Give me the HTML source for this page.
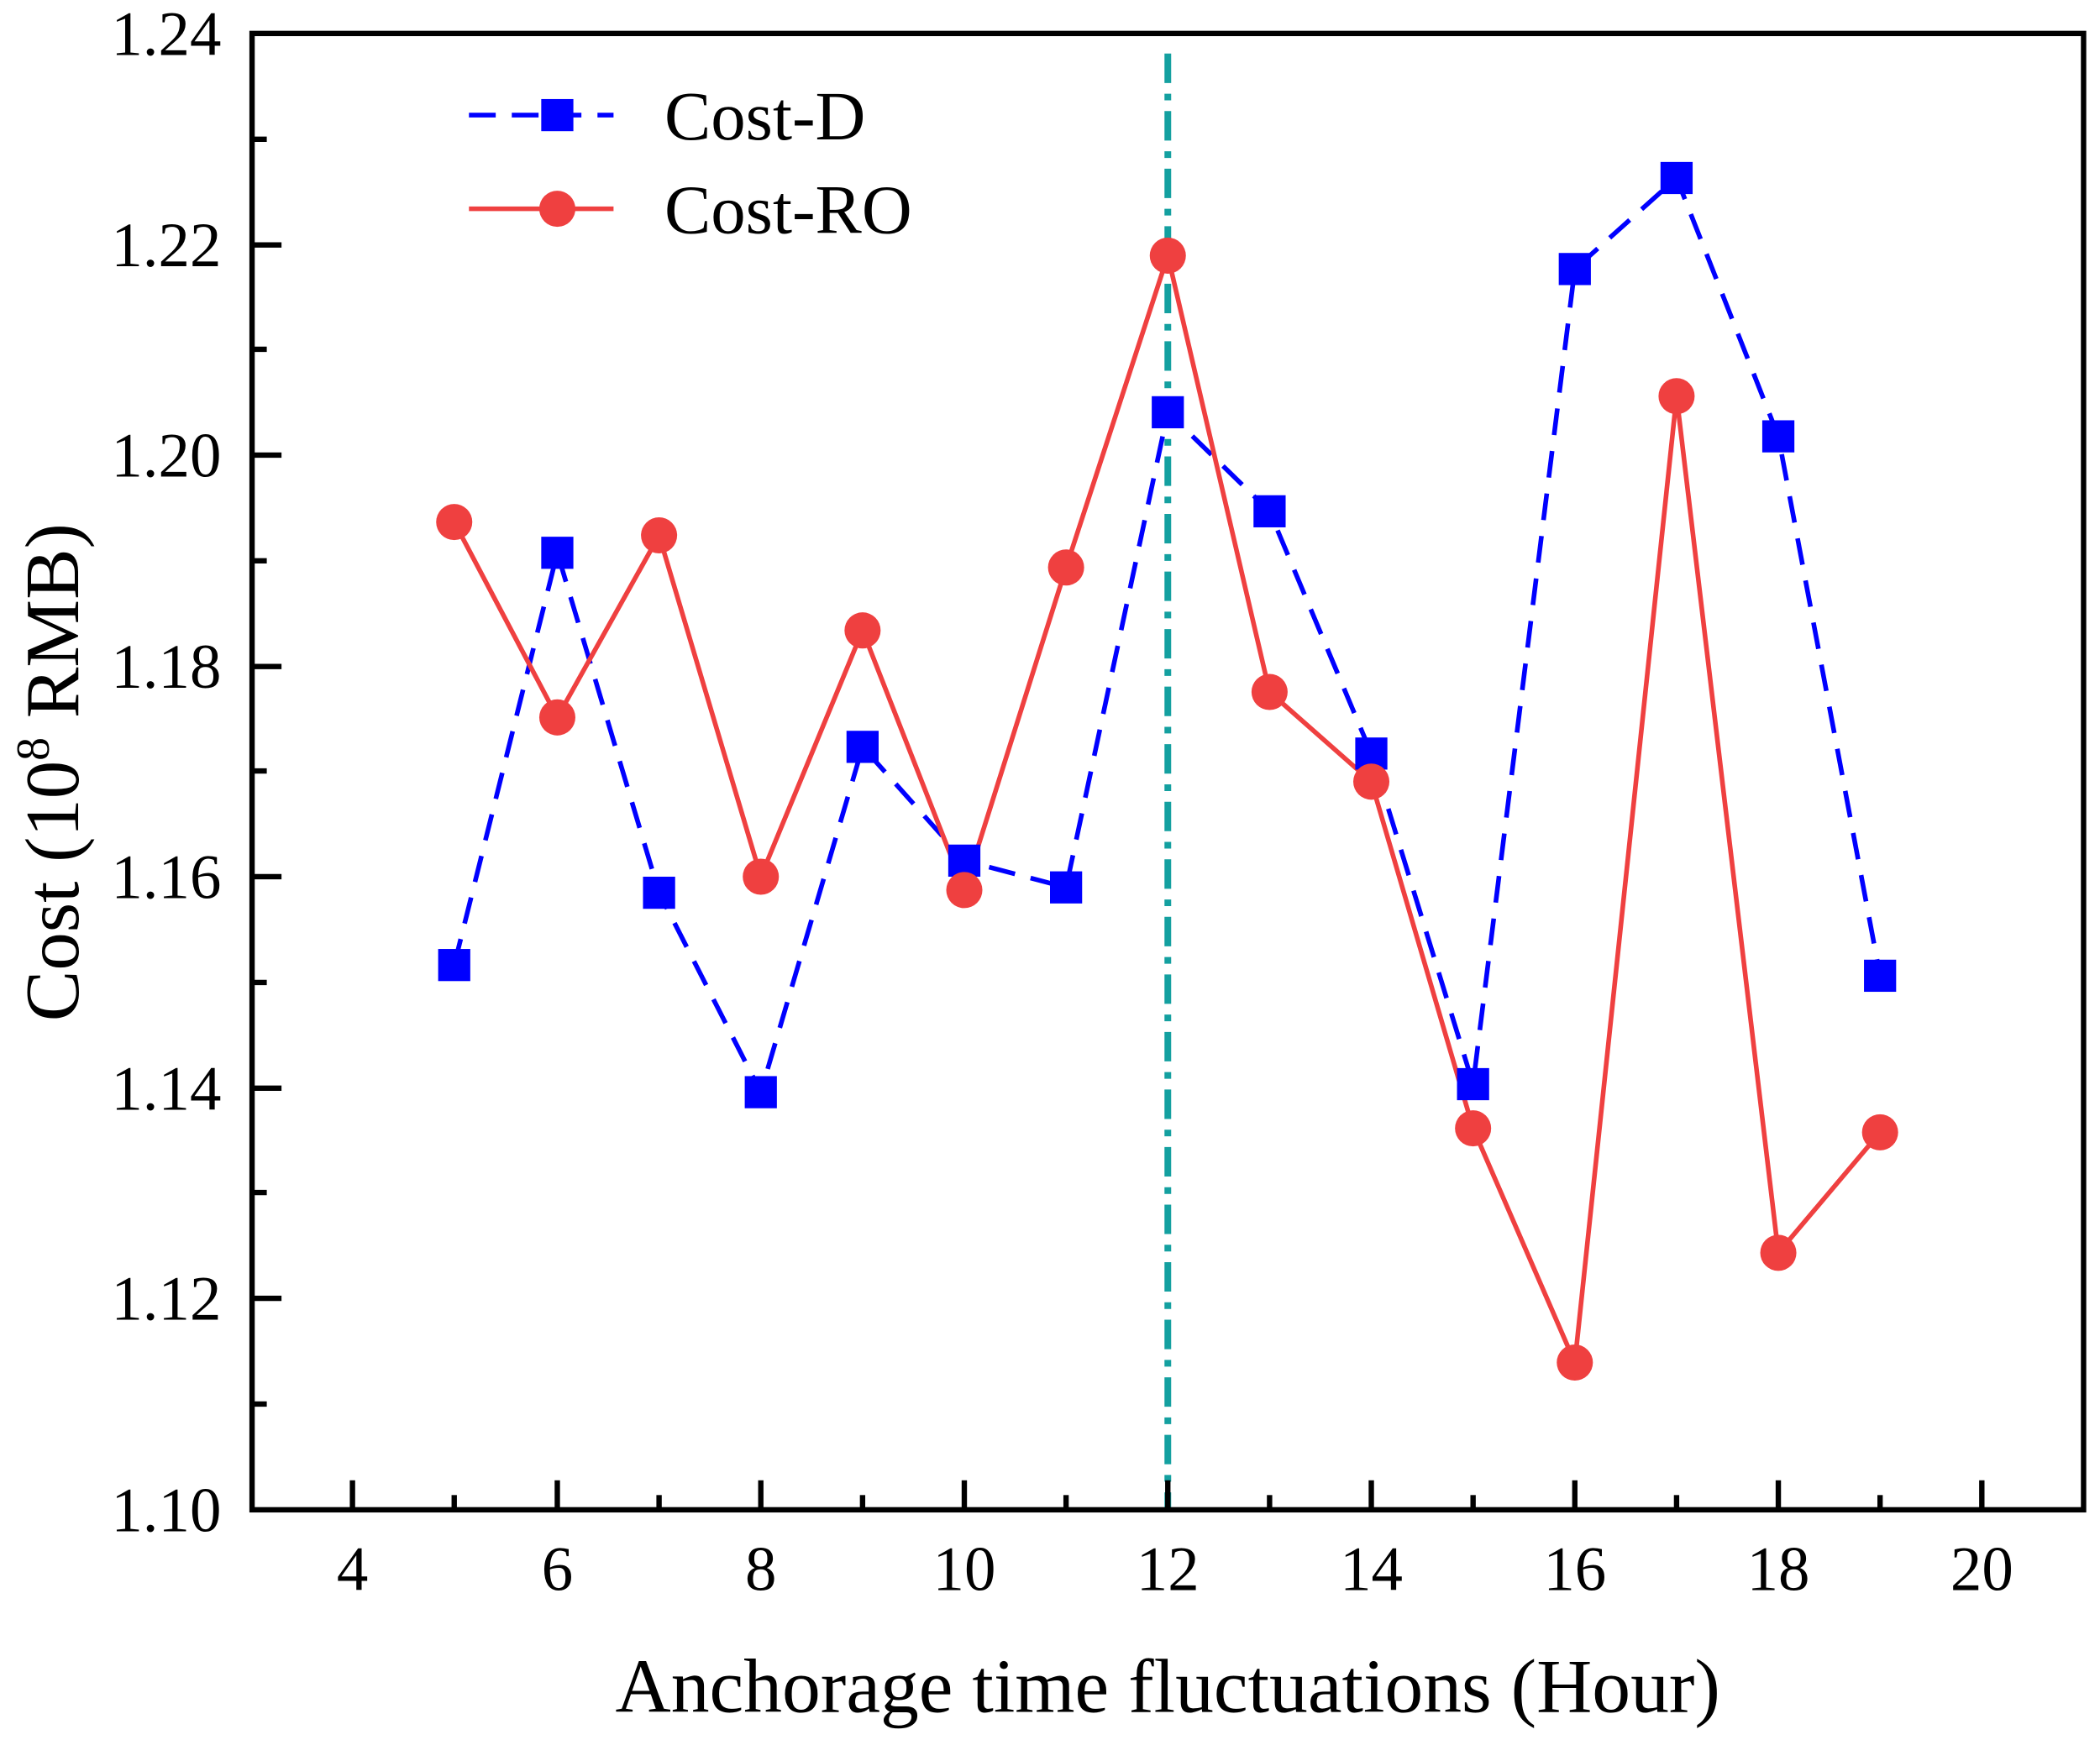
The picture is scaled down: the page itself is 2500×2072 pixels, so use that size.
<!DOCTYPE html>
<html><head><style>html,body{margin:0;padding:0;background:#fff}svg{display:block}</style></head>
<body>
<svg width="2500" height="2072" viewBox="0 0 1568 1300" xmlns="http://www.w3.org/2000/svg" font-family="Liberation Serif, serif">
<rect width="1568" height="1300" fill="#fff"/>
<line x1="872" y1="40" x2="872" y2="1128" stroke="#14a0a0" stroke-width="5" stroke-dasharray="22,8,5,8"/>
<polyline fill="none" stroke="#0000ff" stroke-width="3.5" stroke-dasharray="20,12" points="339,721 416,413 492,667 568,816 644,558 720,643 796,663 872,308 948,382 1024,563 1100,810 1176,201 1252,133 1328,326 1404,729"/>
<polyline fill="none" stroke="#ef4040" stroke-width="3.5" points="339,390 416,536 492,400 568,655 644,471 720,665 796,424 872,191 948,517 1024,584 1100,843 1176,1018 1252,296 1328,936 1404,846"/>
<g fill="#0000ff">
<rect x="327" y="709" width="24" height="24"/><rect x="404" y="401" width="24" height="24"/><rect x="480" y="655" width="24" height="24"/><rect x="556" y="804" width="24" height="24"/><rect x="632" y="546" width="24" height="24"/><rect x="708" y="631" width="24" height="24"/><rect x="784" y="651" width="24" height="24"/><rect x="860" y="296" width="24" height="24"/><rect x="936" y="370" width="24" height="24"/><rect x="1012" y="551" width="24" height="24"/><rect x="1088" y="798" width="24" height="24"/><rect x="1164" y="189" width="24" height="24"/><rect x="1240" y="121" width="24" height="24"/><rect x="1316" y="314" width="24" height="24"/><rect x="1392" y="717" width="24" height="24"/>
</g>
<g fill="#ef4040">
<circle cx="339" cy="390" r="13.5"/><circle cx="416" cy="536" r="13.5"/><circle cx="492" cy="400" r="13.5"/><circle cx="568" cy="655" r="13.5"/><circle cx="644" cy="471" r="13.5"/><circle cx="720" cy="665" r="13.5"/><circle cx="796" cy="424" r="13.5"/><circle cx="872" cy="191" r="13.5"/><circle cx="948" cy="517" r="13.5"/><circle cx="1024" cy="584" r="13.5"/><circle cx="1100" cy="843" r="13.5"/><circle cx="1176" cy="1018" r="13.5"/><circle cx="1252" cy="296" r="13.5"/><circle cx="1328" cy="936" r="13.5"/><circle cx="1404" cy="846" r="13.5"/>
</g>
<rect x="188" y="25" width="1368" height="1103" fill="none" stroke="#000" stroke-width="4"/>
<g stroke="#000" stroke-width="4">
<line x1="188" y1="183" x2="210" y2="183"/><line x1="188" y1="340" x2="210" y2="340"/><line x1="188" y1="498" x2="210" y2="498"/><line x1="188" y1="655" x2="210" y2="655"/><line x1="188" y1="813" x2="210" y2="813"/><line x1="188" y1="970" x2="210" y2="970"/>
<line x1="188" y1="104" x2="199" y2="104"/><line x1="188" y1="261" x2="199" y2="261"/><line x1="188" y1="419" x2="199" y2="419"/><line x1="188" y1="576" x2="199" y2="576"/><line x1="188" y1="734" x2="199" y2="734"/><line x1="188" y1="891" x2="199" y2="891"/><line x1="188" y1="1049" x2="199" y2="1049"/>
<line x1="263" y1="1128" x2="263" y2="1106"/><line x1="416" y1="1128" x2="416" y2="1106"/><line x1="568" y1="1128" x2="568" y2="1106"/><line x1="720" y1="1128" x2="720" y2="1106"/><line x1="872" y1="1128" x2="872" y2="1106"/><line x1="1024" y1="1128" x2="1024" y2="1106"/><line x1="1176" y1="1128" x2="1176" y2="1106"/><line x1="1328" y1="1128" x2="1328" y2="1106"/><line x1="1480" y1="1128" x2="1480" y2="1106"/>
<line x1="339" y1="1128" x2="339" y2="1117"/><line x1="492" y1="1128" x2="492" y2="1117"/><line x1="644" y1="1128" x2="644" y2="1117"/><line x1="796" y1="1128" x2="796" y2="1117"/><line x1="948" y1="1128" x2="948" y2="1117"/><line x1="1100" y1="1128" x2="1100" y2="1117"/><line x1="1252" y1="1128" x2="1252" y2="1117"/><line x1="1404" y1="1128" x2="1404" y2="1117"/>
</g>
<g font-size="47" text-anchor="end" fill="#000">
<text x="165" y="41">1.24</text><text x="165" y="199">1.22</text><text x="165" y="356">1.20</text><text x="165" y="514">1.18</text><text x="165" y="671">1.16</text><text x="165" y="829">1.14</text><text x="165" y="986">1.12</text><text x="165" y="1144">1.10</text>
</g>
<g font-size="47" text-anchor="middle" fill="#000">
<text x="263" y="1188">4</text><text x="416" y="1188">6</text><text x="568" y="1188">8</text><text x="720" y="1188">10</text><text x="872" y="1188">12</text><text x="1024" y="1188">14</text><text x="1176" y="1188">16</text><text x="1328" y="1188">18</text><text x="1480" y="1188">20</text>
</g>
<text x="872" y="1279" font-size="57.5" text-anchor="middle">Anchorage time fluctuations (Hour)</text>
<text transform="translate(58,577) rotate(-90)" font-size="57" text-anchor="middle">Cost (10<tspan font-size="35" dy="-22">8</tspan><tspan dy="22"> RMB)</tspan></text>
<line x1="350" y1="86" x2="458" y2="86" stroke="#0000ff" stroke-width="3.5" stroke-dasharray="20,12"/>
<rect x="404" y="74" width="24" height="24" fill="#0000ff"/>
<text x="496" y="104" font-size="52">Cost-D</text>
<line x1="350" y1="156" x2="458" y2="156" stroke="#ef4040" stroke-width="3.5"/>
<circle cx="416" cy="156" r="13.5" fill="#ef4040"/>
<text x="496" y="174" font-size="52">Cost-RO</text>
</svg>
</body></html>
